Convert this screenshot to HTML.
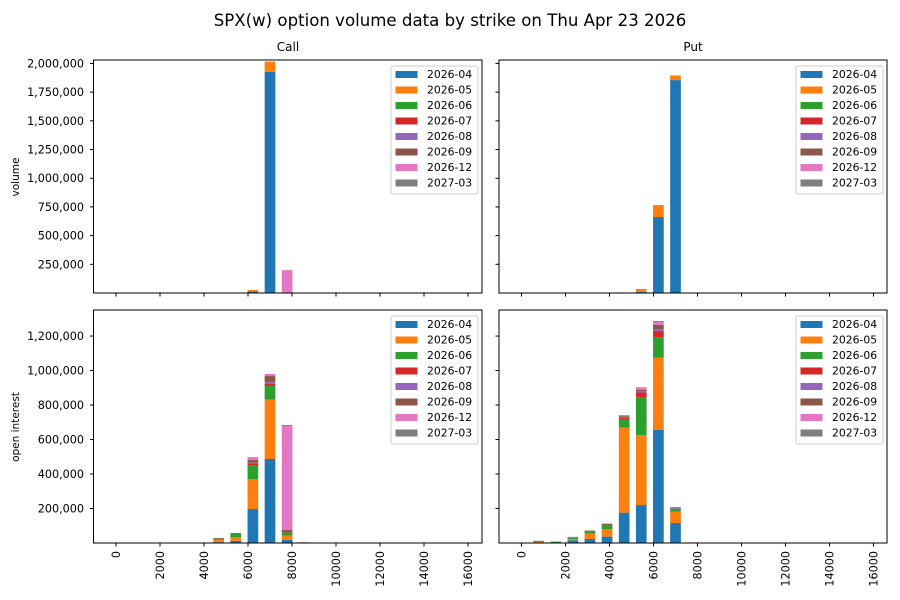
<!DOCTYPE html>
<html><head><meta charset="utf-8">
<style>
html,body{margin:0;padding:0;background:#fff;}
svg{display:block;font-family:"DejaVu Sans","Liberation Sans",sans-serif;}
</style></head>
<body>
<svg id="chart" width="900" height="600" viewBox="0 0 900 600">
<text x="450" y="26" text-anchor="middle" font-size="16.6" fill="#000">SPX(w) option volume data by strike on Thu Apr 23 2026</text>
<text x="288" y="51" text-anchor="middle" font-size="12">Call</text>
<text x="693" y="51" text-anchor="middle" font-size="12">Put</text>
<text transform="translate(19,177) rotate(-90)" text-anchor="middle" font-size="10.5">volume</text>
<text transform="translate(19,427) rotate(-90)" text-anchor="middle" font-size="10.5">open interest</text>
</svg>
<script>
// bin index k -> strike k*778
const strikes = [0,778,1556,2333,3111,3889,4667,5444,6222,7000,7778,8556];
const expiries = ["2026-04","2026-05","2026-06","2026-07","2026-08","2026-09","2026-12","2027-03"];
const colors = ["#1f77b4","#ff7f0e","#2ca02c","#d62728","#9467bd","#8c564b","#e377c2","#7f7f7f"];
const xTicks = [0,2000,4000,6000,8000,10000,12000,14000,16000];
const volTicks = [250000,500000,750000,1000000,1250000,1500000,1750000,2000000];
const oiTicks = [200000,400000,600000,800000,1000000,1200000];
// values in thousands
const callVol = [
 [0,0,0,0,0,0,0,0,15,1926,0,0],
 [0,0,0,0,0,0,0,0,11,90,0,0],
 [0,0,0,0,0,0,0,0,0,0,0,0],
 [0,0,0,0,0,0,0,0,0,0,0,0],
 [0,0,0,0,0,0,0,0,0,0,0,0],
 [0,0,0,0,0,0,0,0,0,0,0,0],
 [0,0,0,0,0,0,0,0,0,0,199,0],
 [0,0,0,0,0,0,0,0,0,0,0,0]];
const putVol = [
 [0,0,0,0,0,0,0,10,662,1855,0,0],
 [0,0,0,0,0,0,5,25,98,38,0,0],
 [0,0,0,0,0,0,0,0,5,0,0,0],
 [0,0,0,0,0,0,0,0,0,0,0,0],
 [0,0,0,0,0,0,0,0,0,0,0,0],
 [0,0,0,0,0,0,0,0,0,0,0,0],
 [0,0,0,0,0,0,0,0,0,4,0,0],
 [0,0,0,0,0,0,0,0,0,0,0,0]];
const callOI = [
 [0,0,0,0,0,0,5,13,197,487,19,0],
 [0,0,0,0,0,0,15,20,174,344,23,0],
 [0,0,0,0,0,0,5,21,81,79,18,0],
 [0,0,0,0,0,0,0,4,10,12,0,0],
 [0,0,0,0,0,0,0,0,3,11,0,0],
 [0,0,0,0,0,0,4,0,16,35,17,4],
 [0,0,0,0,0,0,0,0,12,12,601,0],
 [0,0,0,0,0,0,0,0,4,0,6,0]];
const putOI = [
 [0,0,0,16,23,37,176,220,657,116,0,0],
 [0,8,0,7,31,44,493,406,417,65,0,0],
 [0,5,8,10,12,21,46,220,120,18,0,0],
 [0,0,0,0,0,0,10,27,35,0,0,0],
 [0,0,0,0,0,0,6,6,12,6,0,0],
 [0,0,0,0,6,10,5,10,23,3,0,0],
 [0,0,0,3,0,0,6,11,17,0,4,0],
 [0,0,0,0,0,0,0,3,6,0,0,0]];

const NS="http://www.w3.org/2000/svg";
const svg=document.getElementById('chart');
function el(tag,attrs,parent){const e=document.createElementNS(NS,tag);for(const k in attrs)e.setAttribute(k,attrs[k]);(parent||svg).appendChild(e);return e;}
function fmt(v){return v.toLocaleString('en-US');}

function panel(name,x0,x1,y0,y1,x0px,ymax,data,yTicks,showY,showXLabels){
  const g=el('g',{});
  
  
  const xs=v=>x0px+v*0.022;
  const ys=v=>y1-(v/ymax)*(y1-y0);
  const bw=486*0.022;
  for(let s=0;s<data.length;s++){
    for(let k=0;k<strikes.length;k++){
      const v=data[s][k]*1000; if(!v)continue;
      let base=0;for(let t=0;t<s;t++)base+=data[t][k]*1000;
      const top=Math.max(ys(base+v),y0), bot=ys(base);
      if(bot<=y0)continue;
      const r=el('rect',{x:xs(strikes[k])-bw/2,y:top,width:bw,height:bot-top,fill:colors[s]},g);
      
      
    }
  }
  const fr=el('rect',{x:x0,y:y0,width:x1-x0,height:y1-y0,fill:'none',stroke:'#000','stroke-width':1},g);
  
  
  yTicks.forEach(t=>{
    const y=ys(t);
    el('line',{x1:x0-3.5,x2:x0,y1:y,y2:y,stroke:'#000'},g);
    if(showY){const tx=el('text',{x:x0-9.5,y:y+4,'text-anchor':'end','font-size':11.2},g);tx.textContent=fmt(t);
      
      }
  });
  xTicks.forEach(t=>{
    const x=xs(t);
    el('line',{x1:x,x2:x,y1:y1,y2:y1+3.5,stroke:'#000'},g);
    if(showXLabels){const tx=el('text',{transform:`translate(${x+4},${y1+8}) rotate(-90)`,'text-anchor':'end','font-size':11.2},g);tx.textContent=t;
      
      }
  });
  const lx=x1-91, ly=y0+6;
  const lg=el('g',{},g);
  
  
  el('rect',{x:lx,y:ly,width:87,height:128,rx:2,fill:'#fff','fill-opacity':0.8,stroke:'#ccc'},lg);
  expiries.forEach((e,i)=>{
    const yy=ly+8+i*15.5;
    el('rect',{x:lx+4.5,y:yy-3,width:22,height:7,fill:colors[i]},lg);
    const tx=el('text',{x:lx+36,y:yy+4,'font-size':10.8},lg);tx.textContent=e;
    
    
  });
}
panel('call-volume',93.5,482,60,293,116,2030000,callVol,volTicks,true,false);
panel('put-volume',499,887,60,293,521.5,2030000,putVol,volTicks,false,false);
panel('call-oi',93.5,482,310,543,116,1351000,callOI,oiTicks,true,true);
panel('put-oi',499,887,310,543,521.5,1351000,putOI,oiTicks,false,true);
</script>
</body></html>
